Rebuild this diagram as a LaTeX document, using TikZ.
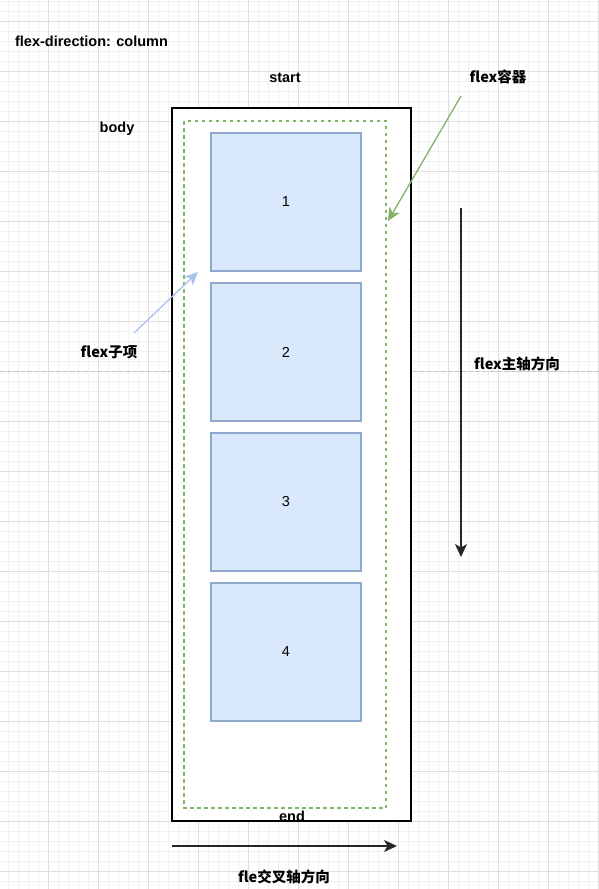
\documentclass[tikz,border=0pt]{standalone}
\usepackage{fontspec}
\setmainfont{Liberation Sans}
\newfontfamily\cjk{Noto Sans CJK SC}
\usetikzlibrary{positioning,chains,arrows.meta}
\definecolor{boxfill}{HTML}{DAE8FC}
\definecolor{boxdraw}{HTML}{8FA8CE}
\definecolor{greenline}{HTML}{82B366}
\definecolor{blueline}{HTML}{A9C4EB}
\definecolor{minorgrid}{HTML}{F1F1F1}
\definecolor{majorgrid}{HTML}{DEDEDE}
\definecolor{pagebreak}{HTML}{C4C4C4}
\tikzset{
	flex layout/.style={
		x=1pt,y=-1pt,
		font=\fontsize{14.5}{17}\selectfont\bfseries,
		axis arrow/.style={
			line width=1.2pt,
			draw=black!85,
			-{Stealth[length=13pt,width=12pt,inset=3.5pt]}
		},
		hint arrow/.style={
			line width=1.3pt,
			-{Stealth[length=13pt,width=12pt,inset=3.5pt]}
		}
	},
	flex item/.style={
		rectangle,
		draw=boxdraw,
		fill=boxfill,
		line width=1.2pt,
		on chain,
		minimum width=150pt,
		minimum height=138pt,
		font=\fontsize{14.5}{17}\selectfont
	},
	plain label/.style={
		inner sep=0pt
	}
}

\begin{document}
\begin{tikzpicture}[flex layout]
	\useasboundingbox (0,0) rectangle (599,889);
	% background grid
	\foreach \x in {8.5,18.5,...,598.5}
		\draw[minorgrid,line width=1pt] (\x,0) -- (\x,889);
	\foreach \y in {1.5,11.5,...,888.5}
		\draw[minorgrid,line width=1pt] (0,\y) -- (599,\y);
	\foreach \x in {48.5,98.5,...,598.5}
		\draw[majorgrid,line width=1pt] (\x,0) -- (\x,889);
	\foreach \y in {21.5,71.5,...,888.5}
		\draw[majorgrid,line width=1pt] (0,\y) -- (599,\y);
	\draw[pagebreak,line width=1pt,dash pattern=on 4pt off 3pt] (0,371) -- (599,371);

	% body and flex container
	\draw[black,line width=1.3pt,fill=white] (172,108) rectangle (411,821);
	\draw[greenline,line width=1.4pt,dash pattern=on 3.5pt off 3.5pt] (184,121) rectangle (386,808);

	\begin{scope}[start chain=going below,node distance=10.8pt]
		\node[flex item] (item1) at (286,202) {1};
		\node[flex item] (item2) {2};
		\node[flex item] (item3) {3};
		\node[flex item] (item4) {4};
	\end{scope}

	% labels
	\node[plain label] (direction) at (91.5,41) {flex-direction: column};
	\node[plain label] (start) at (285,78) {start};
	\node[plain label] (body) at (117,129) {body};
	\node[plain label] (end) at (292,816) {end};
	\node[plain label] (container) at (498,77) {\cjk flex容器};
	\node[plain label] (child) at (109,352) {\cjk flex子项};
	\node[plain label] (mainaxis) at (517,364) {\cjk flex主轴方向};
	\node[plain label] (crossaxis) at (284,877) {\cjk fle交叉轴方向};

	% arrows
	\coordinate (containerTail) at (461,96);
	\coordinate (containerTip) at (388,221);
	\coordinate (childTail) at (134,333);
	\coordinate (childTip) at (198,272);
	\coordinate (mainStart) at (461,208);
	\coordinate (mainEnd) at (461,557);
	\coordinate (crossStart) at (172,846);
	\coordinate (crossEnd) at (397,846);
	\draw[hint arrow,greenline] (containerTail) -- (containerTip);
	\draw[hint arrow,blueline] (childTail) -- (childTip);
	\draw[axis arrow] (mainStart) -- (mainEnd);
	\draw[axis arrow] (crossStart) -- (crossEnd);
\end{tikzpicture}
\end{document}
